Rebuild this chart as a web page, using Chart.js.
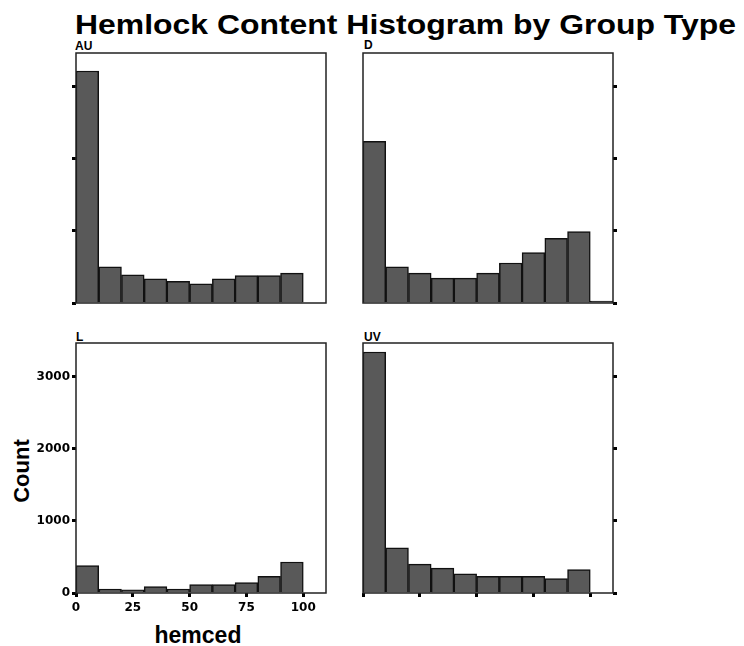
<!DOCTYPE html>
<html>
<head>
<meta charset="utf-8">
<script src="https://cdn.jsdelivr.net/npm/chart.js@4.4.1/dist/chart.umd.min.js"></script>
<style>
  html, body { margin: 0; padding: 0; background: #fff; }
  #wrap { position: relative; width: 744px; height: 646px; overflow: hidden; background: #fff; }
  #wrap canvas { position: absolute; }
  .txt { position: absolute; font-family: 'Liberation Sans', Arial, sans-serif; font-weight: bold; color: #000; white-space: nowrap; }
  #title { left: 75px; top: 11px; font-size: 28px; line-height: 28px; transform: scaleX(1.14); transform-origin: 0 0; }
  .panel-label { font-size: 12px; line-height: 12px; }
  #count { font-size: 22px; line-height: 22px; left: 22px; top: 471px; transform: translate(-50%, -50%) rotate(-90deg); }
  #hemced { font-size: 23px; line-height: 23px; left: 198px; top: 624px; transform: translateX(-50%); }
</style>
</head>
<body>
<div id="wrap">
  <div id="title" class="txt">Hemlock Content Histogram by Group Type</div>
  <div class="txt panel-label" style="left:75px;top:40px;">AU</div>
  <div class="txt panel-label" style="left:364px;top:39px;">D</div>
  <div class="txt panel-label" style="left:76px;top:331px;">L</div>
  <div class="txt panel-label" style="left:364px;top:331px;">UV</div>
  <div id="count" class="txt">Count</div>
  <div id="hemced" class="txt">hemced</div>
  <canvas id="c-au"></canvas>
  <canvas id="c-d"></canvas>
  <canvas id="c-l"></canvas>
  <canvas id="c-uv"></canvas>
</div>

<script>
// ---- data ----
const binCenters = [5, 15, 25, 35, 45, 55, 65, 75, 85, 95, 105];
const auCounts   = [3215, 500, 390, 335, 300, 265, 335, 380, 380, 415];
const dCounts    = [2240, 500, 415, 345, 345, 415, 555, 700, 895, 990, 25];
const lCounts    = [380, 55, 45, 90, 55, 115, 115, 145, 230, 430];
const uvCounts   = [3340, 625, 400, 345, 265, 230, 230, 230, 200, 325];
const xTicks = [0, 25, 50, 75, 100];
const yTicks = [0, 1000, 2000, 3000];
const X_MAX = 110;
const Y_MAX = 3465;

const BAR_FILL = '#595959';
const PLOT_W = 250, PLOT_H = 250;
const SIDE = 50, TOP_PAD = 10, X_AXIS_H = 20, EXTRA_H = 40;

// frame around the plot area
const framePlugin = {
  id: 'frame',
  afterDatasetsDraw(chart) {
    const { ctx, chartArea: a } = chart;
    ctx.save();
    ctx.strokeStyle = '#222';
    ctx.lineWidth = 1.5;
    ctx.strokeRect(a.left, a.top, a.right - a.left, a.bottom - a.top);
    ctx.restore();
  }
};

function makePanel(id, counts, opts) {
  const canvas = document.getElementById(id);
  canvas.width = PLOT_W + 2 * SIDE;
  canvas.height = PLOT_H + EXTRA_H;
  canvas.style.left = (opts.left - SIDE) + 'px';
  canvas.style.top = (opts.top - TOP_PAD) + 'px';

  const yRight = opts.yPos === 'right';
  const tickFont = { family: "'DejaVu Sans', sans-serif", size: 12, weight: 'bold' };
  const tickColor = opts.labels ? '#000' : 'rgba(0,0,0,0)';

  return new Chart(canvas, {
    type: 'bar',
    data: {
      datasets: [{
        data: counts.map((v, i) => ({ x: binCenters[i], y: v })),
        backgroundColor: BAR_FILL,
        borderColor: '#111',
        borderWidth: 1.5,
        barPercentage: 1,
        categoryPercentage: 1,
      }],
    },
    options: {
      responsive: false,
      animation: false,
      devicePixelRatio: 1,
      layout: {
        padding: {
          top: TOP_PAD,
          bottom: EXTRA_H - TOP_PAD - X_AXIS_H,
          left: yRight ? SIDE : 0,
          right: yRight ? 0 : SIDE,
        },
      },
      plugins: { legend: { display: false }, tooltip: { enabled: false } },
      scales: {
        x: {
          type: 'linear',
          min: 0,
          max: X_MAX,
          offset: false,
          afterBuildTicks: s => { s.ticks = xTicks.map(v => ({ value: v })); },
          afterFit: s => { s.height = X_AXIS_H; },
          border: { display: false },
          grid: {
            display: opts.xTickMarks,
            offset: false,
            drawOnChartArea: false,
            drawTicks: true,
            tickLength: 4,
            tickWidth: 3,
            tickColor: '#000',
          },
          ticks: {
            autoSkip: false,
            maxRotation: 0,
            padding: 4,
            font: tickFont,
            color: tickColor,
            callback: v => String(v),
          },
        },
        y: {
          position: opts.yPos,
          min: 0,
          max: Y_MAX,
          afterBuildTicks: s => { s.ticks = yTicks.map(v => ({ value: v })); },
          afterFit: s => { s.width = SIDE; },
          border: { display: false },
          grid: {
            drawOnChartArea: false,
            drawTicks: true,
            tickLength: 4,
            tickWidth: 3,
            tickColor: '#000',
          },
          ticks: {
            autoSkip: false,
            padding: 2,
            font: tickFont,
            color: tickColor,
            callback: v => String(v),
          },
        },
      },
    },
    plugins: [framePlugin],
  });
}

makePanel('c-au', auCounts, { left: 76,  top: 53,  yPos: 'left',  xTickMarks: false, labels: false });
makePanel('c-d',  dCounts,  { left: 363, top: 53,  yPos: 'right', xTickMarks: false, labels: false });
makePanel('c-l',  lCounts,  { left: 76,  top: 343, yPos: 'left',  xTickMarks: true,  labels: true });
makePanel('c-uv', uvCounts, { left: 363, top: 343, yPos: 'right', xTickMarks: true,  labels: false });
</script>
</body>
</html>
